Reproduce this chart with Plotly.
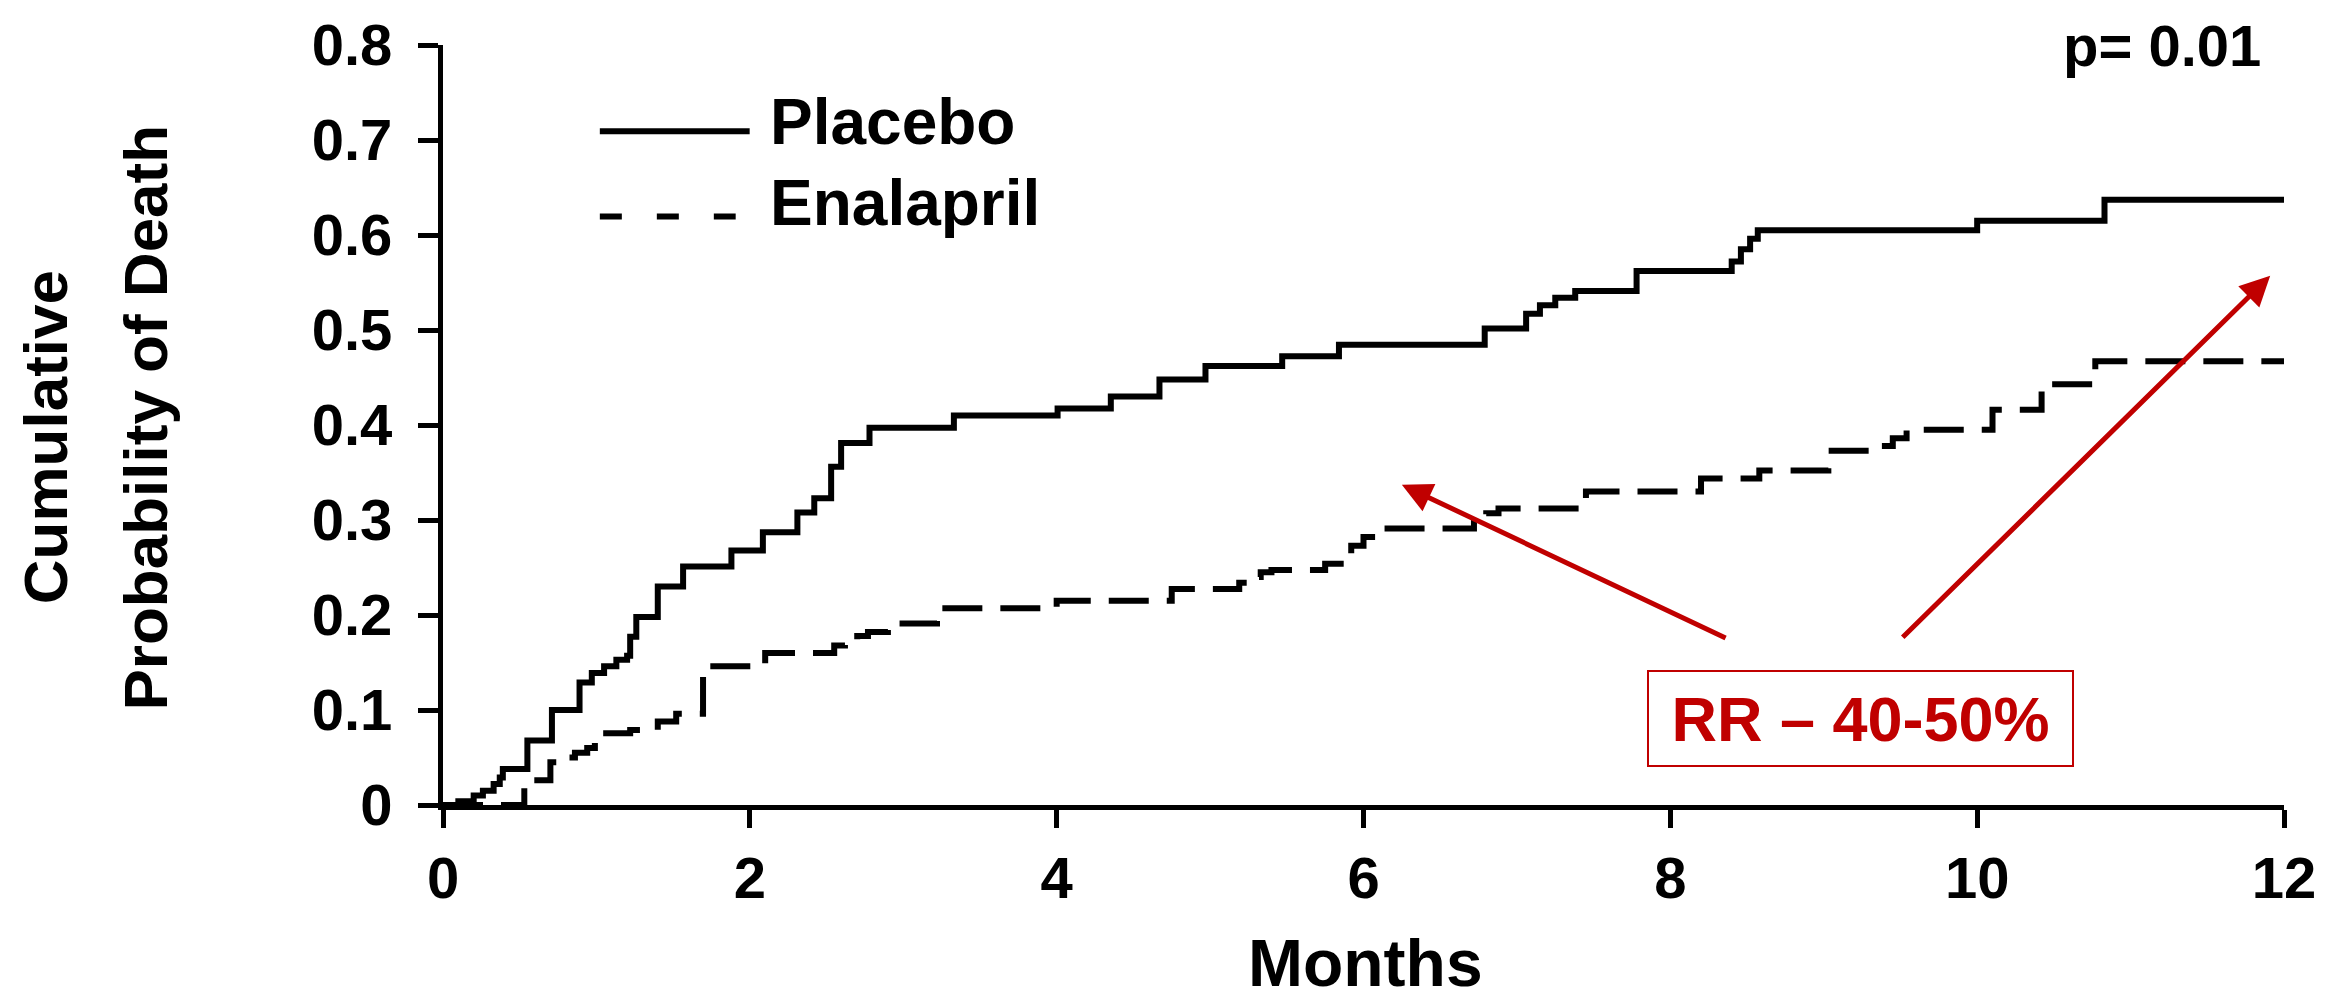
import plotly.graph_objects as go

# ---- data (Kaplan-Meier style step curves) ----
placebo_months = [0, 0.10, 0.20, 0.26, 0.33, 0.37, 0.39, 0.55, 0.71, 0.89, 0.97, 1.05, 1.13, 1.20,
                  1.22, 1.26, 1.40, 1.565, 1.88, 2.085, 2.31, 2.42, 2.53, 2.595, 2.78, 3.33,
                  4.006, 4.353, 4.67, 4.97, 5.47, 5.84, 6.79, 7.06, 7.15, 7.25, 7.38, 7.78,
                  8.40, 8.46, 8.52, 8.57, 10.0, 10.83, 12.0]
placebo_prob = [0, 0.004, 0.010, 0.015, 0.022, 0.029, 0.038, 0.068, 0.100, 0.129, 0.139, 0.146, 0.153, 0.157,
                0.177, 0.198, 0.230, 0.251, 0.268, 0.287, 0.308, 0.323, 0.356, 0.381, 0.397, 0.410,
                0.4175, 0.430, 0.448, 0.462, 0.4725, 0.4845, 0.5017, 0.517, 0.526, 0.534, 0.541, 0.562,
                0.572, 0.585, 0.596, 0.605, 0.615, 0.637, 0.637]

enalapril_months = [0, 0.53, 0.70, 0.78, 0.86, 0.94, 0.99, 1.22, 1.40, 1.52, 1.695, 2.10, 2.55, 2.62,
                    2.70, 2.77, 2.90, 3.22, 4.00, 4.75, 5.19, 5.26, 5.33, 5.40, 5.75, 5.92, 6.00,
                    6.10, 6.72, 6.80, 6.88, 7.45, 8.20, 8.58, 9.03, 9.37, 9.45, 9.54, 10.10, 10.42,
                    10.77, 12.0]
enalapril_prob = [0, 0.026, 0.045, 0.050, 0.055, 0.060, 0.0756, 0.079, 0.088, 0.096, 0.146, 0.160, 0.168, 0.173,
                  0.178, 0.182, 0.191, 0.207, 0.215, 0.2275, 0.234, 0.240, 0.245, 0.2474, 0.254, 0.273, 0.282,
                  0.291, 0.301, 0.307, 0.312, 0.330, 0.3436, 0.352, 0.373, 0.378, 0.386, 0.395, 0.416, 0.443,
                  0.467, 0.467]

x_tick_vals = [0, 2, 4, 6, 8, 10, 12]
y_tick_vals = [0, 0.1, 0.2, 0.3, 0.4, 0.5, 0.6, 0.7, 0.8]
y_tick_text = ["0", "0.1", "0.2", "0.3", "0.4", "0.5", "0.6", "0.7", "0.8"]

series_names = ["Placebo", "Enalapril"]
p_value_text = "p= 0.01"
rr_text = "RR \u2013 40-50%"
x_title = "Months"
y_title_lines = ["Cumulative", "Probability of Death"]

# arrows: (tip month, tip prob) and (tail month, tail prob)
arrow_tips = [(6.25, 0.337), (11.91, 0.557)]
arrow_tails = [(8.37, 0.175), (9.505, 0.175)]
rr_box_center = (9.24, 0.0912)

RED = "#C00000"
FONT = "Liberation Sans, Arial, Helvetica, sans-serif"

fig = go.Figure()
fig.add_trace(go.Scatter(x=placebo_months, y=placebo_prob, mode="lines", name=series_names[0],
                         line=dict(color="black", width=6, shape="hv"), showlegend=False))
fig.add_trace(go.Scatter(x=enalapril_months, y=enalapril_prob, mode="lines", name=series_names[1],
                         line=dict(color="black", width=6, shape="hv", dash="40px,18px"),
                         showlegend=False))

W, H = 2328, 1000
ML, MR, MT, MB = 443, 42, 29, 195
PW, PH = W - ML - MR, H - MT - MB


def px_x(px):
    return (px - ML) / PW


def px_y(py):
    return (H - MB - py) / PH


shapes = [
    dict(type="line", xref="paper", yref="paper", x0=px_x(600), x1=px_x(750), y0=px_y(117), y1=px_y(117),
         line=dict(color="black", width=6)),
    dict(type="line", xref="paper", yref="paper", x0=px_x(600), x1=px_x(736), y0=px_y(204), y1=px_y(204),
         line=dict(color="black", width=6, dash="22px,35px")),
]

annotations = [
    dict(text="<b>%s</b>" % series_names[0], xref="paper", yref="paper", x=px_x(768), y=px_y(108),
         xanchor="left", yanchor="middle", showarrow=False, font=dict(family=FONT, size=64, color="black")),
    dict(text="<b>%s</b>" % series_names[1], xref="paper", yref="paper", x=px_x(768), y=px_y(190),
         xanchor="left", yanchor="middle", showarrow=False, font=dict(family=FONT, size=64, color="black")),
    dict(text="<b>%s</b>" % p_value_text, xref="paper", yref="paper", x=px_x(2265), y=px_y(30),
         xanchor="right", yanchor="middle", showarrow=False, font=dict(family=FONT, size=58, color="black")),
    dict(text="<b>%s</b>" % y_title_lines[0], xref="paper", yref="paper", x=px_x(45), y=px_y(429),
         xanchor="center", yanchor="middle", textangle=-90, showarrow=False,
         font=dict(family=FONT, size=62, color="black")),
    dict(text="<b>%s</b>" % y_title_lines[1], xref="paper", yref="paper", x=px_x(145), y=px_y(409),
         xanchor="center", yanchor="middle", textangle=-90, showarrow=False,
         font=dict(family=FONT, size=62, color="black")),
    dict(text="<b>%s</b>" % x_title, xref="paper", yref="paper", x=px_x(1367), y=px_y(966),
         xanchor="center", yanchor="middle", showarrow=False, font=dict(family=FONT, size=66, color="black")),
    dict(text="<b>%s</b>" % rr_text, xref="x", yref="y", x=rr_box_center[0], y=rr_box_center[1],
         xanchor="center", yanchor="middle", showarrow=False, width=423, height=93,
         bordercolor=RED, borderwidth=2, borderpad=0, bgcolor="white",
         font=dict(family=FONT, size=63, color=RED)),
]
for (tx, ty), (sx, sy) in zip(arrow_tips, arrow_tails):
    annotations.append(dict(text="", x=tx, y=ty, xref="x", yref="y", ax=sx, ay=sy, axref="x", ayref="y",
                            showarrow=True, arrowhead=2, arrowsize=1.2, arrowwidth=5, arrowcolor=RED,
                            standoff=0, startstandoff=0))

fig.update_layout(
    width=W, height=H,
    margin=dict(l=ML, r=MR, t=MT, b=MB, pad=0),
    paper_bgcolor="white", plot_bgcolor="white",
    font=dict(family=FONT, color="black"),
    shapes=shapes, annotations=annotations,
    showlegend=False,
    xaxis=dict(range=[0, 12], tickvals=x_tick_vals, ticktext=["<b>%d</b>" % v for v in x_tick_vals],
               ticks="outside", ticklen=18, tickwidth=5,
               tickcolor="black", showline=True, linecolor="black", linewidth=5, showgrid=False,
               zeroline=False, tickfont=dict(family=FONT, size=58, color="black"),
               ticklabelstandoff=0, ticklabeloverflow="allow"),
    yaxis=dict(range=[0, 0.8], tickvals=y_tick_vals, ticktext=["<b>%s</b>" % t for t in y_tick_text],
               ticks="outside", ticklen=20, tickwidth=5, tickcolor="black", showline=True,
               linecolor="black", linewidth=5, showgrid=False, zeroline=False,
               tickfont=dict(family=FONT, size=58, color="black"), ticklabelstandoff=14,
               ticklabeloverflow="allow"),
)

fig.write_html("out.html", config={"displayModeBar": False},
               post_script="document.body.style.margin='0';document.body.style.overflow='hidden';")
